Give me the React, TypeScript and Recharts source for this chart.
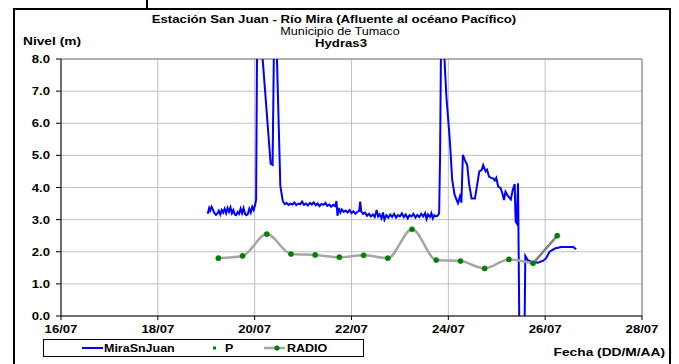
import React from "react";
import { LineChart, Line, XAxis, YAxis, CartesianGrid, ReferenceLine } from "recharts";

const FONT = "'Liberation Sans', Arial, sans-serif";
const STRETCH = 1.25;

const dayTicks = [16, 18, 20, 22, 24, 26, 28];
const levelTicks = [0, 1, 2, 3, 4, 5, 6, 7, 8];
const monthLabel = "07";

// MiraSnJuan water level: [day of July, level (m)]
const miraSnJuan: [number, number][] = [
  [19.03, 3.18], [19.06, 3.36], [19.08, 3.28], [19.11, 3.4], [19.14, 3.3], [19.17, 3.2], [19.2, 3.15],
  [19.23, 3.19], [19.26, 3.28], [19.29, 3.16], [19.32, 3.3], [19.35, 3.22], [19.38, 3.34], [19.41, 3.2],
  [19.44, 3.36], [19.47, 3.24], [19.5, 3.38], [19.53, 3.2], [19.56, 3.3], [19.59, 3.16], [19.62, 3.14],
  [19.65, 3.24], [19.68, 3.18], [19.71, 3.34], [19.74, 3.2], [19.77, 3.36], [19.8, 3.18], [19.83, 3.14],
  [19.86, 3.18], [19.89, 3.34], [19.92, 3.22], [19.95, 3.4], [19.98, 3.3], [20.01, 3.46], [20.03, 3.62],
  [20.05, 8.6], [20.12, 8.6], [20.17, 7.9], [20.33, 4.74], [20.37, 4.7], [20.4, 8.6], [20.45, 8.6],
  [20.53, 4.05], [20.58, 3.58], [20.62, 3.48],
  [20.66, 3.52], [20.7, 3.46], [20.74, 3.5], [20.78, 3.47], [20.82, 3.53], [20.86, 3.45], [20.9, 3.5],
  [20.94, 3.48], [20.98, 3.56], [21.02, 3.46], [21.06, 3.5], [21.1, 3.44], [21.14, 3.52], [21.18, 3.47],
  [21.22, 3.54], [21.26, 3.45], [21.3, 3.5], [21.34, 3.42], [21.38, 3.49], [21.42, 3.46], [21.46, 3.52],
  [21.5, 3.43], [21.54, 3.47], [21.58, 3.4], [21.62, 3.46], [21.66, 3.42], [21.69, 3.58], [21.71, 3.12],
  [21.74, 3.36], [21.77, 3.22], [21.8, 3.32], [21.84, 3.24], [21.88, 3.28], [21.92, 3.22], [21.96, 3.3],
  [22.0, 3.2], [22.04, 3.26], [22.08, 3.18], [22.12, 3.24], [22.16, 3.28], [22.18, 3.56], [22.2, 3.26],
  [22.24, 3.18], [22.28, 3.22], [22.32, 3.12], [22.36, 3.18], [22.4, 3.1], [22.44, 3.16], [22.48, 3.08],
  [22.52, 3.3], [22.55, 3.1], [22.58, 3.16], [22.62, 3.04], [22.65, 3.22], [22.68, 3.0], [22.72, 3.14],
  [22.76, 3.06], [22.8, 3.16], [22.84, 3.08], [22.88, 3.18], [22.92, 3.06], [22.96, 3.14], [23.0, 3.1],
  [23.04, 3.2], [23.08, 3.08], [23.12, 3.16], [23.16, 3.04], [23.2, 3.14], [23.24, 3.1], [23.28, 3.18],
  [23.32, 3.06], [23.36, 3.14], [23.4, 3.08], [23.44, 3.18], [23.48, 3.1], [23.52, 3.2], [23.55, 3.02],
  [23.58, 3.16], [23.62, 3.08], [23.65, 3.2], [23.68, 3.04], [23.71, 3.14], [23.74, 3.1], [23.78, 3.12],
  [23.81, 3.2], [23.83, 5.0], [23.85, 8.6], [23.9, 8.6], [23.96, 6.83], [24.03, 5.48], [24.08, 4.24],
  [24.13, 3.77], [24.2, 3.51], [24.24, 3.72], [24.27, 3.53], [24.3, 5.02], [24.34, 4.86], [24.39, 4.7],
  [24.43, 4.1], [24.48, 3.66], [24.55, 3.66], [24.6, 4.13], [24.64, 4.5], [24.69, 4.55], [24.72, 4.7],
  [24.77, 4.5], [24.8, 4.55], [24.84, 4.34], [24.88, 4.3], [24.92, 4.29], [24.96, 4.22], [24.99, 4.3],
  [25.03, 4.03], [25.08, 3.98], [25.12, 3.8], [25.15, 3.61], [25.18, 3.87], [25.23, 3.74], [25.29, 3.63],
  [25.33, 3.92], [25.37, 4.11], [25.39, 2.94], [25.41, 2.89], [25.44, 4.13], [25.47, -1], [25.57, -1],
  [25.59, 1.87], [25.64, 1.74], [25.7, 1.7], [25.75, 1.69], [25.85, 1.66], [25.96, 1.72], [26.02, 1.8],
  [26.09, 2.0], [26.2, 2.1], [26.33, 2.15], [26.45, 2.15], [26.58, 2.15], [26.64, 2.08],
];

const radioTimes = [19.25, 19.75, 20.25, 20.75, 21.25, 21.75, 22.25, 22.75, 23.25, 23.75, 24.25, 24.75, 25.25, 25.75, 26.25];
const radioLevels = [1.8, 1.87, 2.55, 1.93, 1.9, 1.83, 1.89, 1.8, 2.7, 1.74, 1.71, 1.48, 1.76, 1.64, 2.5];

const miraData = miraSnJuan.map(([t, v]) => ({ t, v }));
const radioData = radioTimes.map((t, i) => ({ t, v: radioLevels[i] }));
const radioSmooth = radioData.slice(0, radioData.length - 1);
const radioLast = radioData.slice(radioData.length - 2);

const fmtDay = (d: number) => `${String(d).padStart(2, "0")}/${monthLabel}`;

const XTick = (props: any) => {
  const { x, y, payload } = props;
  return (
    <g transform={`translate(${x},${y})`}>
      <text transform={`scale(${STRETCH},1)`} textAnchor="middle" y={10} fontFamily={FONT} fontWeight="bold" fontSize={10.5} fill="#000">
        {fmtDay(payload.value)}
      </text>
    </g>
  );
};

const YTick = (props: any) => {
  const { x, y, payload } = props;
  return (
    <g transform={`translate(${x},${y})`}>
      <text transform={`scale(${STRETCH},1)`} textAnchor="end" y={4} fontFamily={FONT} fontWeight="bold" fontSize={10.5} fill="#000">
        {Number(payload.value).toFixed(1)}
      </text>
    </g>
  );
};

const T = ({ x, y, children, size = 11, bold = true, anchor = "middle", sx = STRETCH }: any) => (
  <text transform={`translate(${x},${y}) scale(${sx},1)`} textAnchor={anchor} fontFamily={FONT} fontWeight={bold ? "bold" : "normal"} fontSize={size} fill="#000">
    {children}
  </text>
);

export default function App() {
  return (
    <div style={{ position: "absolute", left: 0, top: 0, width: 679, height: 364, overflow: "hidden", background: "#fff" }}>
      <div style={{ position: "absolute", left: 13, top: 8, width: 654, height: 420, border: "2px solid #000" }} />
      <div style={{ position: "absolute", left: 146, top: 0, width: 2, height: 8, background: "#000" }} />
      <div style={{ position: "absolute", left: 0, top: 0 }}>
        <LineChart width={679} height={364} margin={{ top: 59, right: 37, bottom: 28, left: 21 }}>
          <CartesianGrid stroke="#c0c0c0" strokeWidth={1} />
          <XAxis
            dataKey="t"
            type="number"
            domain={[16, 28]}
            ticks={dayTicks}
            allowDataOverflow
            height={20}
            tickSize={4}
            tickMargin={3}
            axisLine={{ stroke: "#000" }}
            tickLine={{ stroke: "#000" }}
            tick={<XTick />}
            interval={0}
          />
          <YAxis
            type="number"
            domain={[0, 8]}
            ticks={levelTicks}
            allowDataOverflow
            width={40}
            tickSize={5}
            tickMargin={6}
            axisLine={{ stroke: "#000" }}
            tickLine={{ stroke: "#000" }}
            tick={<YTick />}
            interval={0}
          />
          <ReferenceLine y={8} stroke="#808080" strokeWidth={1} />
          <ReferenceLine x={28} stroke="#808080" strokeWidth={1} />
          <Line data={miraData} dataKey="v" type="linear" stroke="#0000ff" strokeWidth={2} dot={false} isAnimationActive={false} />
          <Line data={radioSmooth} dataKey="v" type="monotone" stroke="#a6a6a6" strokeWidth={2.5} dot={false} isAnimationActive={false} />
          <Line data={radioLast} dataKey="v" type="linear" stroke="#808080" strokeWidth={2.5} dot={false} isAnimationActive={false} />
          <Line data={radioData} dataKey="v" stroke="none" dot={{ r: 2.6, fill: "#008000", stroke: "#008000", strokeWidth: 0.5 }} isAnimationActive={false} />
        </LineChart>
      </div>
      <svg width={679} height={364} style={{ position: "absolute", left: 0, top: 0, pointerEvents: "none" }}>
        <T x={334} y={23} sx={1.2}>Estación San Juan  - Río Mira (Afluente al océano Pacífico)</T>
        <T x={340} y={35} bold={false} sx={1.15}>Municipio de Tumaco</T>
        <T x={341} y={46.5} sx={1.2}>Hydras3</T>
        <T x={23} y={45} anchor="start">Nivel (m)</T>
        <T x={665} y={356} anchor="end">Fecha (DD/M/AA)</T>
        <rect x={43.5} y={339.5} width={320} height={17} fill="#fff" stroke="#000" strokeWidth={1} />
        <line x1={82} x2={103} y1={348} y2={348} stroke="#0000ff" strokeWidth={2} />
        <T x={104} y={351.5} size={10} anchor="start">MiraSnJuan</T>
        <rect x={213} y={346.5} width={3} height={3} fill="#008000" />
        <T x={225} y={351.5} size={10} anchor="start">P</T>
        <line x1={264} x2={285} y1={348} y2={348} stroke="#a6a6a6" strokeWidth={2.5} />
        <circle cx={277} cy={348} r={2.6} fill="#008000" />
        <T x={287} y={351.5} size={10} anchor="start">RADIO</T>
      </svg>
    </div>
  );
}
